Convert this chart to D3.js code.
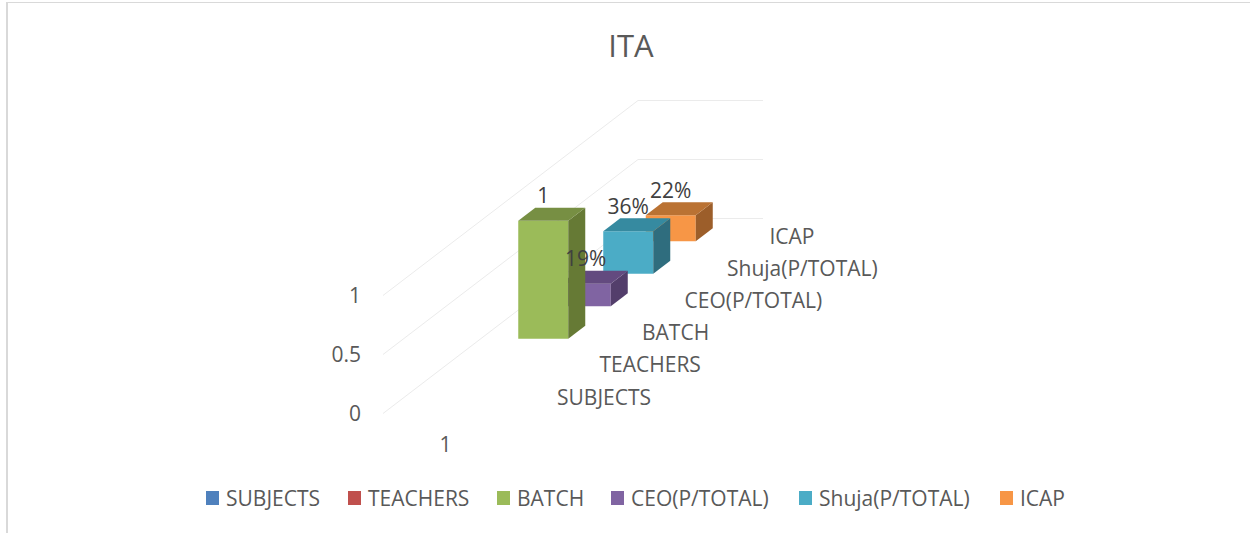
<!DOCTYPE html>
<html><head><meta charset="utf-8">
<script src="https://cdnjs.cloudflare.com/ajax/libs/d3/7.8.5/d3.min.js"></script>
<style>html,body{margin:0;padding:0;background:#fff}svg{display:block}text{font-family:"Open Sans",sans-serif}</style>
</head><body><svg id="c" width="1250" height="533"></svg>
<script>
const title = "ITA";
const categories = ["1"];
const seriesNames = ["SUBJECTS","TEACHERS","BATCH","CEO(P/TOTAL)","Shuja(P/TOTAL)","ICAP"];
const seriesValues = [null,null,1,0.19,0.36,0.22];
const seriesLabels = ["","","1","19%","36%","22%"];
const yTicks = [0,0.5,1];
const frontColors = ["#4F81BD","#C0504D","#9BBB59","#8064A2","#4BACC6","#F79646"];
const sideColors = ["#2F4D71","#73302E","#667A35","#533E6B","#2F6D7E","#9C5E2A"];
const topColors = ["#3F6797","#9A403E","#778F43","#634A7F","#368AA0","#BA7233"];
const legendX = [206,348,497,611,799,1000];

const svg = d3.select("#c");
const FS = 21;
const y = d3.scaleLinear().domain([0,1]).range([0,118]);
const depthX = d3.scaleLinear().domain([0,seriesNames.length]).range([0,255]);
const depthY = d3.scaleLinear().domain([0,seriesNames.length]).range([0,-195]);
const labelY = d3.scaleLinear().domain([0,seriesNames.length-1]).range([397,236]);
const cat = d3.scaleBand().domain(categories).range([383,508]).paddingInner(0).paddingOuter(0.75);
const base = 413.5;
const gap = 0.3;
const px = (xv,d,v)=>[xv+depthX(d), base+depthY(d)-y(v)];
const poly = pts=>pts.map(p=>p.join(",")).join(" ");

// frame
svg.append("line").attr("x1",6).attr("x2",1250).attr("y1",2.5).attr("y2",2.5).attr("stroke","#d9d9d9");
svg.append("line").attr("x1",7).attr("x2",7).attr("y1",2).attr("y2",533).attr("stroke","#d9d9d9").attr("stroke-width",2);

// title
svg.append("text").attr("x",631).attr("y",46).attr("dy","0.36em").attr("text-anchor","middle")
  .attr("font-size",31).attr("fill","#595959").text(title);

// gridlines
const n = seriesNames.length;
svg.append("g").selectAll("polyline").data(yTicks).join("polyline")
  .attr("fill","none").attr("stroke","#ebebeb").attr("stroke-width",1)
  .attr("points",t=>poly([px(383,0,t),px(383,n,t),px(508,n,t)]));

// y tick labels
svg.append("g").selectAll("text").data(yTicks).join("text")
  .attr("x",361).attr("y",t=>413-y(t)).attr("dy","0.36em").attr("text-anchor","end")
  .attr("font-size",FS).attr("fill","#595959").text(d3.format("~g"));

// category label
svg.append("g").selectAll("text").data(categories).join("text")
  .attr("x",c=>cat(c)+cat.bandwidth()/2).attr("y",444).attr("dy","0.36em").attr("text-anchor","middle")
  .attr("font-size",FS).attr("fill","#595959").text(c=>c);

// depth axis labels
svg.append("g").selectAll("text").data(seriesNames).join("text")
  .attr("x",(s,i)=>557+depthX(i)).attr("y",(s,i)=>labelY(i)).attr("dy","0.36em")
  .attr("font-size",FS).attr("fill","#595959").text(s=>s);

// bars, drawn back to front
const rows = seriesNames.map((s,i)=>({s,i,v:seriesValues[i],lab:seriesLabels[i]})).filter(d=>d.v!==null);
const bars = svg.append("g").selectAll("g").data(rows.slice().reverse()).join("g");
const x0 = cat("1"), x1 = x0+cat.bandwidth();
bars.append("polygon").attr("fill",d=>frontColors[d.i])
  .attr("points",d=>{const a=d.i+gap;return poly([px(x0,a,0),px(x1,a,0),px(x1,a,d.v),px(x0,a,d.v)]);});
bars.append("polygon").attr("fill",d=>sideColors[d.i])
  .attr("points",d=>{const a=d.i+gap,b=d.i+1-gap;return poly([px(x1,a,0),px(x1,b,0),px(x1,b,d.v),px(x1,a,d.v)]);});
bars.append("polygon").attr("fill",d=>topColors[d.i])
  .attr("points",d=>{const a=d.i+gap,b=d.i+1-gap;return poly([px(x0,a,d.v),px(x1,a,d.v),px(x1,b,d.v),px(x0,b,d.v)]);});

// data labels
svg.append("g").selectAll("text").data(rows).join("text")
  .attr("x",d=>px((x0+x1)/2,d.i+gap,d.v)[0]).attr("y",d=>px((x0+x1)/2,d.i+gap,d.v)[1]-25)
  .attr("dy","0.36em").attr("text-anchor","middle").attr("font-size",FS).attr("fill","#404040").text(d=>d.lab);

// legend
const lg = svg.append("g").selectAll("g").data(seriesNames).join("g")
  .attr("transform",(s,i)=>`translate(${legendX[i]},0)`);
lg.append("rect").attr("y",491).attr("width",13).attr("height",14).attr("fill",(s,i)=>frontColors[i]);
lg.append("text").attr("x",20).attr("y",498).attr("dy","0.36em").attr("font-size",FS).attr("fill","#595959").text(s=>s);
</script></body></html>
